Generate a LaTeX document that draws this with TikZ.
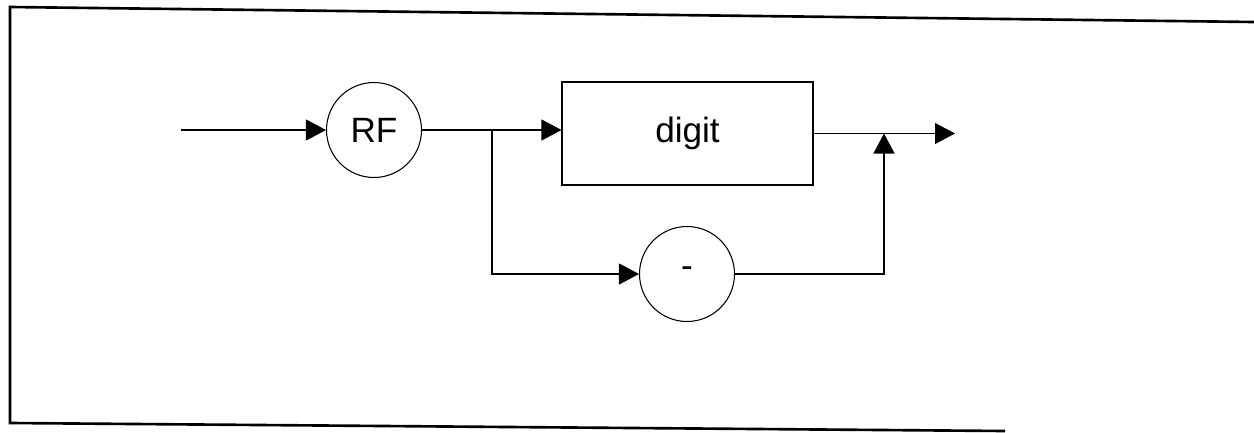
\documentclass[tikz,border=0pt]{standalone}
\usepackage{fontspec}
\setmainfont{Liberation Sans}
\usetikzlibrary{arrows.meta}
\usetikzlibrary{calc}
\tikzset{
  term/.style={circle, draw, minimum size=1.9cm, inner sep=0pt, font=\fontsize{20}{22}\selectfont},
  nonterm/.style={rectangle, draw, minimum width=5.02cm, minimum height=2.06cm, font=\fontsize{20}{22}\selectfont}
}

\begin{document}
\begin{tikzpicture}[line width=.6pt, >={Triangle[length=.4cm,width=.42cm]}]
\useasboundingbox (0,0) rectangle (25.08,-8.66);
% frame
\draw[line width=1.5pt] (25.08,-.44) -- (.2,-.14) -- (.2,-8.46) -- (20.1,-8.62);
% nodes
\node[term] (rf) at (7.48,-2.6) {RF};
\node[nonterm] (digit) at (13.75,-2.67) {digit};
\node[term] (minus) at (13.74,-5.48) {\raisebox{.1em}{-}};
\coordinate (start) at (3.62,-2.6);
\coordinate (split) at (9.84,-2.6);
\coordinate (join) at (17.68,-2.67);
\coordinate (finish) at (19.1,-2.67);
% connectors
\draw[->] (start) -- (rf.west);
\draw[->] (rf.east) -- (rf.east -| digit.west);
\draw[->] (split) |- (minus.west);
\draw[->] (minus.east) -| (join);
\draw[->] (digit.east) -- (finish);
\end{tikzpicture}
\end{document}
